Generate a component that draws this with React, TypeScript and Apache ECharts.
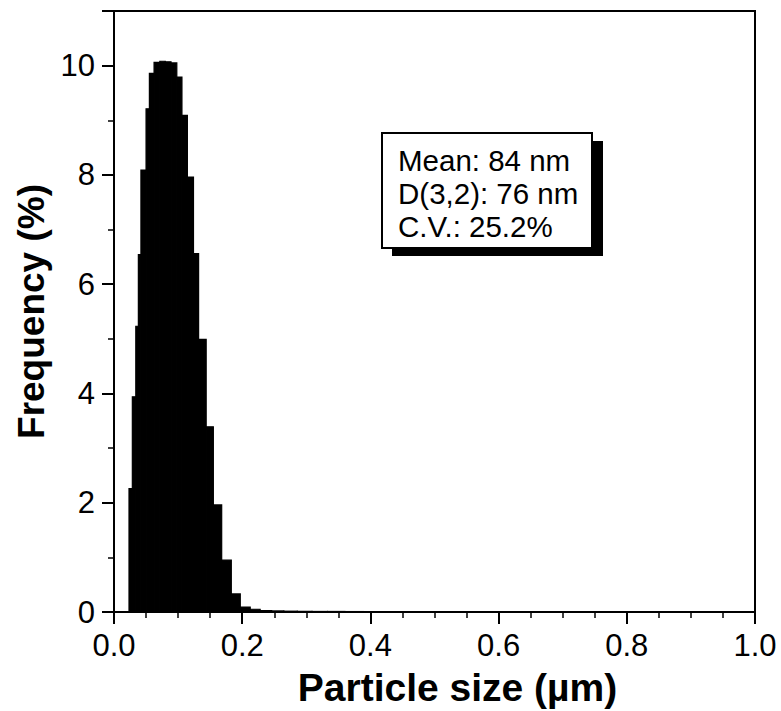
import React, { useEffect, useRef } from "react";
import * as echarts from "echarts";

// Histogram bin edges (µm) and frequencies (%)
const binEdges = [
  0.0234, 0.0286, 0.034, 0.038, 0.042, 0.05, 0.0552, 0.0625, 0.0715, 0.08,
  0.089, 0.098, 0.106, 0.1145, 0.124, 0.132, 0.1438, 0.155, 0.168, 0.183,
  0.197, 0.2125, 0.228, 0.246, 0.265, 0.286, 0.309, 0.333, 0.36, 0.39, 0.4,
];
const frequency = [
  2.26, 3.94, 5.23, 6.54, 8.09, 9.21, 9.86, 10.06, 10.08, 10.07, 10.05, 9.79,
  9.09, 7.96, 6.56, 4.99, 3.39, 1.96, 0.95, 0.33, 0.09, 0.05, 0.025, 0.02,
  0.015, 0.012, 0.01, 0.01, 0.008, 0.006,
];

const xTicks = [0, 0.2, 0.4, 0.6, 0.8, 1.0];
const yTickLabels = [0, 2, 4, 6, 8, 10];
const statLines = ["Mean: 84 nm", "D(3,2): 76 nm", "C.V.: 25.2%"];

const FONT = "'Liberation Sans', Arial, Helvetica, sans-serif";

export default function App() {
  const ref = useRef<HTMLDivElement>(null);

  useEffect(() => {
    if (!ref.current) return;
    const chart = echarts.init(ref.current, null, { renderer: "svg" });

    const bars = frequency.map((v, i) => [binEdges[i], binEdges[i + 1], v]);

    const option = {
      animation: false,
      backgroundColor: "#ffffff",
      grid: {
        left: 114,
        right: 26,
        top: 11,
        bottom: 99,
        show: true,
        borderColor: "#000",
        borderWidth: 2,
        backgroundColor: "transparent",
        containLabel: false,
        outerBoundsMode: "none",
      },
      xAxis: [
        {
          type: "value",
          min: xTicks[0],
          max: xTicks[xTicks.length - 1],
          interval: 0.2,
          name: "Particle size (µm)",
          nameLocation: "middle",
          nameGap: 56,
          nameTextStyle: {
            fontFamily: FONT,
            fontSize: 39,
            lineHeight: 39,
            fontWeight: "bold",
            color: "#000",
            padding: [0, 0, 0, 46],
          },
          axisLine: { show: true, onZero: false, lineStyle: { color: "#000", width: 2 } },
          axisTick: { show: true, inside: false, length: 12, lineStyle: { color: "#000", width: 2 } },
          minorTick: { show: true, splitNumber: 4, length: 6, lineStyle: { color: "#000", width: 1.5 } },
          axisLabel: {
            margin: 18,
            fontFamily: FONT,
            fontSize: 31,
            color: "#000",
            formatter: (v: number) => v.toFixed(1),
          },
          splitLine: { show: false },
          minorSplitLine: { show: false },
        },
      ],
      yAxis: [
        {
          type: "value",
          min: 0,
          max: 11,
          interval: 1,
          name: "Frequency (%)",
          nameLocation: "middle",
          nameGap: 60,
          nameTextStyle: { fontFamily: FONT, fontSize: 37, fontWeight: "bold", color: "#000" },
          axisLine: { show: true, onZero: false, lineStyle: { color: "#000", width: 2 } },
          axisTick: { show: true, inside: false, length: 6, lineStyle: { color: "#000", width: 1.5 } },
          axisLabel: {
            margin: 19,
            fontFamily: FONT,
            fontSize: 31,
            color: "#000",
            formatter: (v: number) => (yTickLabels.indexOf(v) >= 0 ? String(v) : ""),
          },
          splitLine: { show: false },
        },
        {
          type: "value",
          position: "left",
          min: 0,
          max: 11,
          interval: 2,
          axisLine: { show: false, onZero: false },
          axisTick: { show: true, inside: false, length: 12, lineStyle: { color: "#000", width: 2 } },
          axisLabel: { show: false },
          splitLine: { show: false },
        },
      ],
      graphic: [
        {
          type: "rect",
          shape: { x: 392, y: 141, width: 211, height: 115 },
          style: { fill: "#000" },
          z: 10,
        },
        {
          type: "rect",
          shape: { x: 382, y: 133, width: 210, height: 115 },
          style: { fill: "#fff", stroke: "#000", lineWidth: 2 },
          z: 11,
        },
        ...statLines.map((t, i) => ({
          type: "text",
          x: 398,
          y: 160 + i * 33,
          style: {
            text: t,
            font: `29.5px ${FONT}`,
            fill: "#000",
            verticalAlign: "middle",
            align: "left",
          },
          z: 12,
        })),
      ],
      series: [
        {
          type: "custom",
          xAxisIndex: 0,
          yAxisIndex: 0,
          data: bars,
          clip: true,
          renderItem: (params: any, api: any) => {
            const x0 = api.value(0);
            const x1 = api.value(1);
            const v = api.value(2);
            const p0 = api.coord([x0, v]);
            const p1 = api.coord([x1, 0]);
            return {
              type: "rect",
              shape: { x: p0[0], y: p0[1], width: p1[0] - p0[0], height: p1[1] - p0[1] },
              style: { fill: "#000", stroke: "#000", lineWidth: 1.2 },
            };
          },
        },
      ],
    };

    chart.setOption(option as any);
    return () => chart.dispose();
  }, []);

  return (
    <div
      ref={ref}
      style={{ position: "fixed", left: 0, top: 0, width: 781, height: 711, background: "#fff" }}
    />
  );
}
